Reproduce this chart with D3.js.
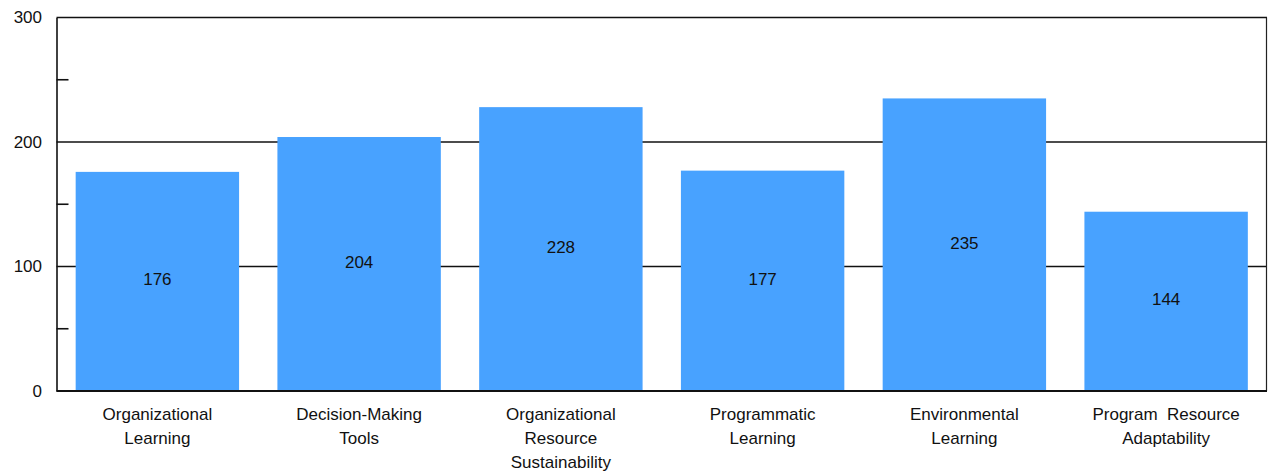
<!DOCTYPE html>
<html>
<head>
<meta charset="utf-8">
<script src="https://cdn.jsdelivr.net/npm/d3@7/dist/d3.min.js"></script>
<style>
  html, body { margin: 0; padding: 0; background: #fff; }
  svg { display: block; font-family: "Liberation Sans", Arial, sans-serif; }
</style>
</head>
<body>
<svg id="chart" width="1268" height="473"></svg>
<script>
// Category labels (line breaks mark wrapped rows)
const categories = [
  "Organizational\nLearning",
  "Decision-Making\nTools",
  "Organizational\nResource\nSustainability",
  "Programmatic\nLearning",
  "Environmental\nLearning",
  "Program  Resource\nAdaptability"
];
const values = [176, 204, 228, 177, 235, 144];
const majorTicks = [0, 100, 200, 300];
const minorTicks = [50, 150, 250];

const W = 1268, H = 473;
const margin = { top: 17.5, right: 1, bottom: 82, left: 56.5 };
const svg = d3.select("#chart");

const x = d3.scaleBand()
  .domain(categories)
  .range([margin.left, W - margin.right])
  .paddingInner(0.19)
  .paddingOuter(0.095);

const y = d3.scaleLinear()
  .domain([0, 300])
  .range([H - margin.bottom, margin.top]);

// Gridlines at major ticks
svg.append("g")
  .selectAll("line")
  .data(majorTicks.filter(d => d > 0))
  .join("line")
  .attr("x1", margin.left)
  .attr("x2", W - margin.right)
  .attr("y1", d => y(d))
  .attr("y2", d => y(d))
  .attr("stroke", "#111")
  .attr("stroke-width", 1.6);

// Right border
svg.append("line")
  .attr("x1", W - margin.right - 0.5).attr("x2", W - margin.right - 0.5)
  .attr("y1", y(300)).attr("y2", y(0))
  .attr("stroke", "#222").attr("stroke-width", 1.2);

// Bars
svg.append("g")
  .selectAll("rect")
  .data(values)
  .join("rect")
  .attr("x", (d, i) => x(categories[i]))
  .attr("width", x.bandwidth())
  .attr("y", d => y(d))
  .attr("height", d => y(0) - y(d))
  .attr("fill", "#48a2ff");

// Value labels in the middle of each bar
svg.append("g")
  .selectAll("text")
  .data(values)
  .join("text")
  .attr("x", (d, i) => x(categories[i]) + x.bandwidth() / 2)
  .attr("y", d => (y(d) + y(0)) / 2 - 2)
  .attr("dy", "0.35em")
  .attr("text-anchor", "middle")
  .attr("font-size", 17)
  .attr("fill", "#111")
  .text(d => d);

// Left axis with labels
const yAxis = d3.axisLeft(y).tickValues(majorTicks).tickSize(0).tickPadding(14.5);
const gy = svg.append("g")
  .attr("transform", `translate(${margin.left},0)`)
  .call(yAxis);
gy.select(".domain").attr("stroke", "#111").attr("stroke-width", 1.6);
gy.selectAll("text").attr("font-size", 17).attr("fill", "#111")
  .attr("font-family", "Liberation Sans, Arial, sans-serif");

// Minor ticks pointing into the plot
svg.append("g")
  .selectAll("line")
  .data(minorTicks)
  .join("line")
  .attr("x1", margin.left)
  .attr("x2", margin.left + 12)
  .attr("y1", d => y(d))
  .attr("y2", d => y(d))
  .attr("stroke", "#111")
  .attr("stroke-width", 1.6);

// Bottom axis line
svg.append("line")
  .attr("x1", margin.left).attr("x2", W - margin.right)
  .attr("y1", y(0)).attr("y2", y(0))
  .attr("stroke", "#111").attr("stroke-width", 2.2);

// Category labels, wrapped
const xl = svg.append("g")
  .selectAll("text")
  .data(categories)
  .join("text")
  .attr("x", d => x(d) + x.bandwidth() / 2)
  .attr("y", y(0) + 29)
  .attr("text-anchor", "middle")
  .attr("font-size", 17)
  .attr("fill", "#111")
  .style("white-space", "pre");
xl.each(function(d) {
  const t = d3.select(this);
  d.split("\n").forEach((line, i) => {
    t.append("tspan")
      .attr("x", t.attr("x"))
      .attr("dy", i === 0 ? 0 : 24)
      .text(line);
  });
});
</script>
</body>
</html>
